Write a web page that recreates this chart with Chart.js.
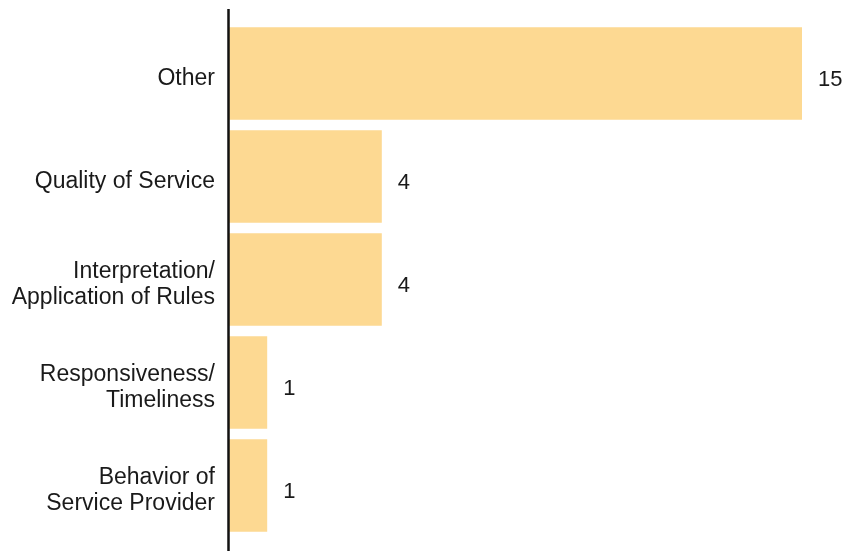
<!DOCTYPE html>
<html>
<head>
<meta charset="utf-8">
<script src="https://cdn.jsdelivr.net/npm/chart.js@4"></script>
<style>
  html, body { margin: 0; padding: 0; background: #fff; }
  #wrap { width: 844px; height: 551px; position: relative; }
</style>
</head>
<body>
<div id="wrap"><canvas id="chart"></canvas></div>
<script>
const categories = [
  "Other",
  "Quality of Service",
  ["Interpretation/", "Application of Rules"],
  ["Responsiveness/", "Timeliness"],
  ["Behavior of", "Service Provider"]
];
const counts = [15, 4, 4, 1, 1];

const FONT = "'Liberation Sans', Arial, Helvetica, sans-serif";

// vertical axis line, runs a bit past the plot area like the original
const axisLine = {
  id: "axisLine",
  afterDatasetsDraw(chart) {
    const { ctx, chartArea, scales } = chart;
    const x = scales.x.getPixelForValue(0);
    ctx.save();
    ctx.strokeStyle = "#111";
    ctx.lineWidth = 2.5;
    ctx.beginPath();
    ctx.moveTo(x - 0.5, chartArea.top - 13);
    ctx.lineTo(x - 0.5, chartArea.bottom + 14);
    ctx.stroke();
    ctx.restore();
  }
};

// value labels to the right of each bar
const valueLabels = {
  id: "valueLabels",
  afterDatasetsDraw(chart) {
    const { ctx } = chart;
    const meta = chart.getDatasetMeta(0);
    ctx.save();
    ctx.font = "22px " + FONT;
    ctx.fillStyle = "#1a1a1a";
    ctx.textAlign = "left";
    ctx.textBaseline = "middle";
    meta.data.forEach((bar, i) => {
      ctx.fillText(String(counts[i]), bar.x + 16, bar.y + 6);
    });
    ctx.restore();
  }
};

new Chart(document.getElementById("chart"), {
  type: "bar",
  data: {
    labels: categories,
    datasets: [{
      data: counts,
      backgroundColor: "#FDD992",
      borderWidth: 0,
      barPercentage: 0.9,
      categoryPercentage: 1
    }]
  },
  options: {
    indexAxis: "y",
    responsive: true,
    maintainAspectRatio: false,
    animation: false,
    layout: { padding: { top: 22, bottom: 14, right: 42, left: 0 } },
    plugins: {
      legend: { display: false },
      tooltip: { enabled: false }
    },
    scales: {
      x: {
        min: 0,
        max: 15,
        display: false
      },
      y: {
        grid: { display: false, drawTicks: false },
        border: { display: false },
        ticks: {
          color: "#1a1a1a",
          padding: 14,
          labelOffset: 5,
          font: { family: FONT, size: 23, lineHeight: 1.15 }
        },
        afterFit(scale) {
          scale.width = 229;
          scale.paddingTop = 0;
          scale.paddingBottom = 0;
        }
      }
    }
  },
  plugins: [axisLine, valueLabels]
});
</script>
</body>
</html>
